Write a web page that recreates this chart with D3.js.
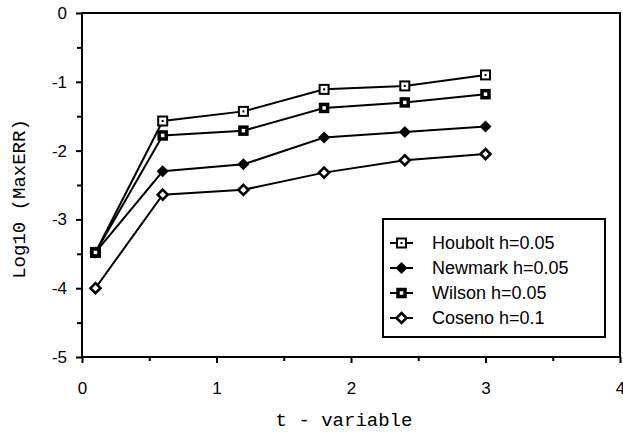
<!DOCTYPE html>
<html><head><meta charset="utf-8">
<script src="https://cdn.jsdelivr.net/npm/d3@7"></script>
<style>body{margin:0;background:#fff}svg{display:block}</style>
</head><body>
<svg id="c" width="623" height="435"></svg>
<script>
const tValues = [0.1, 0.6, 1.2, 1.8, 2.4, 3.0];
const houbolt = [-3.48, -1.57, -1.43, -1.11, -1.06, -0.90];
const newmark = [-3.48, -2.30, -2.20, -1.81, -1.73, -1.65];
const wilson  = [-3.48, -1.78, -1.71, -1.38, -1.30, -1.18];
const coseno  = [-4.00, -2.64, -2.57, -2.32, -2.14, -2.05];
const seriesNames = ["Houbolt h=0.05", "Newmark h=0.05", "Wilson h=0.05", "Coseno h=0.1"];
const xTicks = [0, 1, 2, 3, 4];
const yTicks = [0, -1, -2, -3, -4, -5];

const svg = d3.select("#c");
const x = d3.scaleLinear().domain([0, 4]).range([82, 620]);
const y = d3.scaleLinear().domain([-5, 0]).range([357, 13]);
const ink = "#000";
const sans = "Liberation Sans, Arial, sans-serif";
const mono = "Liberation Mono, Courier New, monospace";

// frame
svg.append("rect").attr("x", x(0)).attr("y", y(0)).attr("width", x(4) - x(0)).attr("height", y(-5) - y(0))
  .attr("fill", "none").attr("stroke", ink).attr("stroke-width", 2);

// x axis
const xAx = svg.append("g").attr("transform", `translate(0,${y(-5)})`)
  .call(d3.axisBottom(x).tickValues(xTicks).tickFormat(d => String(d)).tickSize(6).tickPadding(19));
xAx.select(".domain").remove();
svg.append("g").attr("transform", `translate(0,${y(-5)})`)
  .call(d3.axisBottom(x).tickValues(d3.range(0.5, 4, 1)).tickFormat("").tickSize(4))
  .select(".domain").remove();
// y axis
const yAx = svg.append("g").attr("transform", `translate(${x(0)},0)`)
  .call(d3.axisLeft(y).tickValues(yTicks).tickFormat(d => String(d)).tickSize(6).tickPadding(9));
yAx.select(".domain").remove();
svg.append("g").attr("transform", `translate(${x(0)},0)`)
  .call(d3.axisLeft(y).tickValues(d3.range(-4.5, 0, 1)).tickFormat("").tickSize(5))
  .select(".domain").remove();
svg.selectAll(".tick line").attr("stroke", ink).attr("stroke-width", 2);
svg.selectAll(".tick text").attr("fill", ink).style("font-family", sans).style("font-size", "17px");

// axis titles
svg.append("text").attr("x", 344).attr("y", 426).attr("text-anchor", "middle")
  .style("font-family", mono).style("font-size", "19px").text("t - variable");
svg.append("text").attr("transform", "translate(25,199) rotate(-90)").attr("text-anchor", "middle")
  .style("font-family", mono).style("font-size", "19px").text("Log10 (MaxERR)");

const all = [houbolt, newmark, wilson, coseno];
const line = d3.line().x((d, i) => x(tValues[i])).y(d => y(d));

function marker(g, type, cx, cy) {
  if (type === 0) { // open square with dot
    g.append("rect").attr("x", cx - 4.5).attr("y", cy - 4.5).attr("width", 9).attr("height", 9)
      .attr("fill", "#fff").attr("stroke", ink).attr("stroke-width", 2);
    g.append("rect").attr("x", cx - 1).attr("y", cy - 1).attr("width", 2).attr("height", 2).attr("fill", ink);
  } else if (type === 1) { // filled diamond
    g.append("path").attr("d", `M${cx},${cy-6}L${cx+6},${cy}L${cx},${cy+6}L${cx-6},${cy}Z`).attr("fill", ink);
  } else if (type === 2) { // thick square, small white centre
    g.append("rect").attr("x", cx - 3.5).attr("y", cy - 3.5).attr("width", 7).attr("height", 7)
      .attr("fill", "#fff").attr("stroke", ink).attr("stroke-width", 3.5);
  } else { // open diamond
    g.append("path").attr("d", `M${cx},${cy-5}L${cx+5},${cy}L${cx},${cy+5}L${cx-5},${cy}Z`)
      .attr("fill", "#fff").attr("stroke", ink).attr("stroke-width", 2.6);
  }
}

all.forEach(s => {
  svg.append("path").datum(s).attr("d", line).attr("fill", "none").attr("stroke", ink).attr("stroke-width", 2);
});
all.forEach((s, k) => {
  const g = svg.append("g");
  s.forEach((v, i) => marker(g, k, x(tValues[i]), y(v)));
});

// legend
const lg = svg.append("g");
lg.append("rect").attr("x", 383).attr("y", 219).attr("width", 222).attr("height", 118)
  .attr("fill", "#fff").attr("stroke", ink).attr("stroke-width", 2);
seriesNames.forEach((n, k) => {
  const ly = 243 + k * 25;
  lg.append("line").attr("x1", 390).attr("x2", 413).attr("y1", ly).attr("y2", ly).attr("stroke", ink).attr("stroke-width", 2);
  marker(lg, k, 401.5, ly);
  lg.append("text").attr("x", 432).attr("y", ly + 6)
    .style("font-family", sans).style("font-size", "18px").text(n);
});
</script>
</body></html>
